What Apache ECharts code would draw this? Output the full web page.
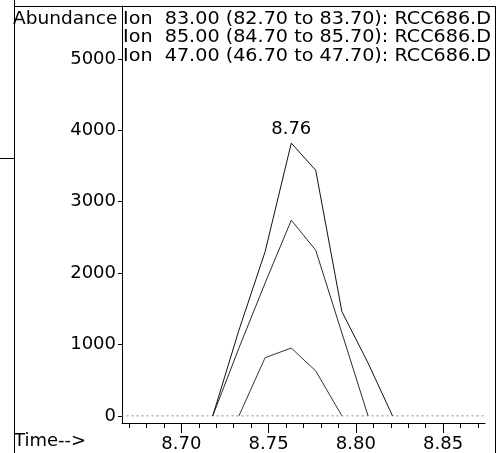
<!DOCTYPE html>
<html lang="en">
  <head>
    <meta charset="UTF-8" />
    <title>Ion chromatogram</title>
    <script src="https://cdn.jsdelivr.net/npm/echarts@6/dist/echarts.min.js"></script>
    <style>
      html, body { margin: 0; padding: 0; background: #fff; }
      #main { width: 503px; height: 453px; }
    </style>
  </head>
  <body>
    <div id="main"></div>
  </body>
  <script>
    // scan times (min) and abundance per ion
    const scanTimes = [8.660, 8.674, 8.689, 8.704, 8.718, 8.733, 8.748, 8.763, 8.777, 8.792, 8.807, 8.821, 8.836, 8.851, 8.865, 8.880];
    const ion83 = [0, 0, 0, 0, 0, 1200, 2300, 3820, 3440, 1460, 740, 0, 0, 0, 0, 0];
    const ion85 = [0, 0, 0, 0, 0, 950, 1860, 2740, 2320, 1160, 0, 0, 0, 0, 0, 0];
    const ion47 = [0, 0, 0, 0, 0, 0, 815, 950, 630, 0, 0, 0, 0, 0, 0, 0];

    const legendLines = [
      "Ion  83.00 (82.70 to 83.70): RCC686.D",
      "Ion  85.00 (84.70 to 85.70): RCC686.D",
      "Ion  47.00 (46.70 to 47.70): RCC686.D",
    ];
    const yTicks = [0, 1000, 2000, 3000, 4000, 5000];
    const xMajorTicks = [8.70, 8.75, 8.80, 8.85];
    const xMinorTicks = [8.67, 8.68, 8.69, 8.70, 8.71, 8.72, 8.73, 8.74, 8.75, 8.76, 8.77, 8.78, 8.79, 8.80, 8.81, 8.82, 8.83, 8.84, 8.85, 8.86, 8.87];
    const peakLabelIon = 0; // label sits on the ion 83 apex

    const FONT = "DejaVu Sans";

    // only keep the part of a trace that leaves the baseline (plus its end zeros)
    function peakPart(values) {
      let first = values.findIndex((v) => v > 0);
      let last = values.length - 1;
      while (last > 0 && values[last] <= 0) last--;
      const out = [];
      for (let i = Math.max(0, first - 1); i <= Math.min(values.length - 1, last + 1); i++) {
        out.push([scanTimes[i], values[i]]);
      }
      return out;
    }

    function withApexLabel(points) {
      let best = 0;
      points.forEach((p, i) => {
        if (p[1] > points[best][1]) best = i;
      });
      return points.map((p, i) =>
        i === best ? { value: p, label: { show: true } } : { value: p }
      );
    }

    const traces = [ion83, ion85, ion47];
    const traceColors = ["#111", "#2a2a2a", "#333"];

    const series = traces.map((vals, k) => {
      let pts = peakPart(vals);
      return {
        type: "line",
        name: legendLines[k],
        data: k === peakLabelIon ? withApexLabel(pts) : pts,
        symbol: "circle",
        symbolSize: 0,
        showSymbol: true,
        lineStyle: { color: traceColors[k], width: 1 },
        itemStyle: { color: traceColors[k] },
        label: {
          show: false,
          position: "top",
          distance: 5,
          color: "#000",
          fontFamily: FONT,
          fontSize: 18,
          formatter: (p) => p.value[0].toFixed(2),
        },
        emphasis: { disabled: true },
        animation: false,
        z: 3 - k,
      };
    });

    // flat baseline shared by the three ions
    series.push({
      type: "line",
      name: "baseline",
      data: scanTimes.map((t) => [t, 0]),
      showSymbol: false,
      lineStyle: { color: "#8a8a8a", width: 1, type: [2, 3] },
      emphasis: { disabled: true },
      animation: false,
      z: 1,
    });

    const header = [
      {
        type: "text",
        x: 13,
        y: 19,
        scaleX: 1.03,
        style: { text: "Abundance", fontFamily: FONT, fontSize: 18, fill: "#000", verticalAlign: "middle" },
      },
    ];
    legendLines.forEach((txt, i) => {
      header.push({
        type: "text",
        x: 123,
        y: 19 + i * 18.5,
        scaleX: 1.065,
        style: { text: txt, fontFamily: FONT, fontSize: 18, fill: "#000", verticalAlign: "middle" },
      });
    });
    header.push({
      type: "text",
      x: 14,
      y: 441,
      style: { text: "Time-->", fontFamily: FONT, fontSize: 18, fill: "#000", verticalAlign: "middle" },
    });
    // outer frame
    header.push(
      { type: "line", shape: { x1: 14.5, y1: 0, x2: 14.5, y2: 453 }, style: { stroke: "#000", lineWidth: 1 } },
      { type: "line", shape: { x1: 14, y1: 6.5, x2: 495, y2: 6.5 }, style: { stroke: "#000", lineWidth: 1 } },
      { type: "line", shape: { x1: 495.5, y1: 6, x2: 495.5, y2: 453 }, style: { stroke: "#000", lineWidth: 1 } },
      { type: "line", shape: { x1: 0, y1: 158.5, x2: 14, y2: 158.5 }, style: { stroke: "#000", lineWidth: 1 } }
    );

    var chartDom = document.getElementById("main");
    var myChart = echarts.init(chartDom, null, { renderer: "canvas" });
    var option = {
      backgroundColor: "#fff",
      animation: false,
      grid: {
        left: 122,
        right: 18,
        top: 6,
        bottom: 30,
        containLabel: false,
        outerBoundsMode: "none",
      },
      xAxis: [
        {
          // minor ticks every 0.01
          type: "value",
          position: "bottom",
          min: 8.666,
          max: 8.874,
          axisLine: { show: true, onZero: false, lineStyle: { color: "#000", width: 1 } },
          axisTick: { show: true, length: 5, customValues: xMinorTicks, lineStyle: { color: "#000" } },
          axisLabel: { show: false },
          splitLine: { show: false },
        },
        {
          // labelled major ticks
          type: "value",
          position: "bottom",
          min: 8.666,
          max: 8.874,
          axisLine: { show: false, onZero: false },
          axisTick: { show: true, length: 10, customValues: xMajorTicks, lineStyle: { color: "#000" } },
          axisLabel: {
            show: true,
            customValues: xMajorTicks,
            margin: 12,
            color: "#000",
            fontFamily: FONT,
            fontSize: 18,
            formatter: (v) => v.toFixed(2),
          },
          splitLine: { show: false },
        },
      ],
      yAxis: {
        type: "value",
        min: -100,
        max: 5740,
        axisLine: { show: true, onZero: false, lineStyle: { color: "#000", width: 1 } },
        axisTick: { show: true, length: 4, customValues: yTicks, lineStyle: { color: "#000" } },
        axisLabel: {
          show: true,
          customValues: yTicks,
          margin: 6,
          color: "#000",
          fontFamily: FONT,
          fontSize: 18,
          formatter: (v) => String(v),
        },
        splitLine: { show: false },
      },
      graphic: header,
      series: series,
    };
    option && myChart.setOption(option);
  </script>
</html>
